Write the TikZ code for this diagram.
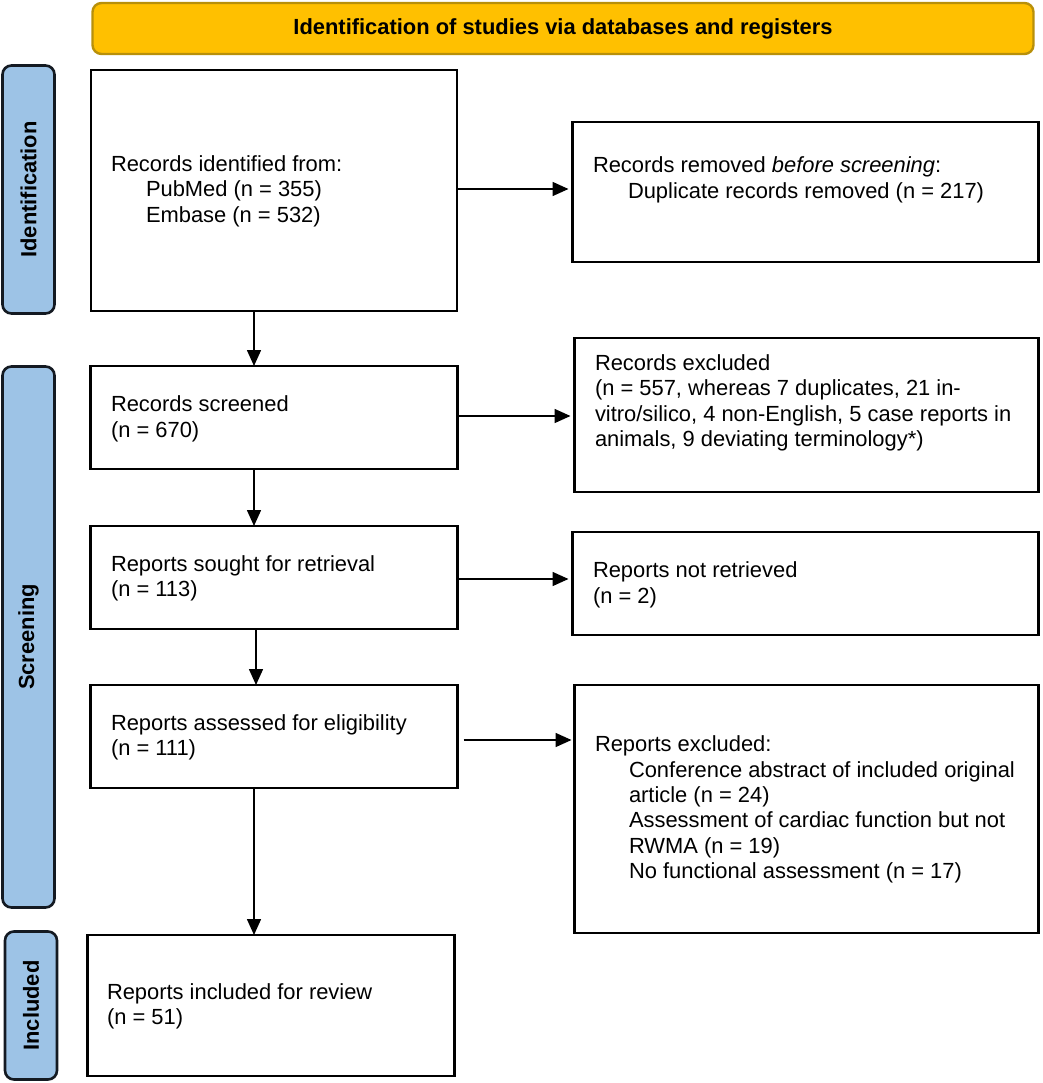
\documentclass[tikz,border=0pt]{standalone}
\usepackage{fontspec}
\setmainfont{Liberation Sans}
\usetikzlibrary{arrows.meta}
\definecolor{hdrfill}{HTML}{FFC000}
\definecolor{hdrdraw}{HTML}{B8900A}
\definecolor{sidefill}{HTML}{9DC3E6}
\definecolor{sidedraw}{HTML}{141A22}
\begin{document}
\begin{tikzpicture}[x=1pt,y=-1pt,
  every node/.style={inner sep=0pt,outer sep=0pt},
  boxn/.style={draw=black,line width=2.6pt,rectangle,anchor=north west},
  txt/.style={anchor=west,align=left,font=\fontsize{21.9}{25.4}\selectfont},
  hdr/.style={draw=hdrdraw,fill=hdrfill,line width=2.4pt,rounded corners=9pt,anchor=north west},
  side/.style={draw=sidedraw,fill=sidefill,line width=2.6pt,rounded corners=9pt,anchor=north west},
  sidetxt/.style={rotate=90,font=\fontsize{21.9}{25}\selectfont\bfseries},
  arr/.style={line width=1.6pt,-{Triangle[length=16pt,width=14pt]}}
]
\useasboundingbox (0,0) rectangle (1042,1083);
% header
\node[hdr,minimum width=941pt,minimum height=51pt] (hdr) at (92.5,3) {};
\node[font=\fontsize{21.9}{25}\selectfont\bfseries] (hdrt) at (563,28.5) {Identification of studies via databases and registers};
% side bars
\node[side,minimum width=52pt,minimum height=248pt] (sid) at (2.5,65.5) {};
\node[sidetxt] (sidt) at (sid.center) {Identification};
\node[side,minimum width=52pt,minimum height=541pt] (sscr) at (2.5,366.5) {};
\node[sidetxt] (sscrt) at (sscr.center) {Screening};
\node[side,minimum width=52pt,minimum height=148pt] (sinc) at (5,931.5) {};
\node[sidetxt] (sinct) at (sinc.center) {Included};
% left column boxes
\node[boxn,minimum width=366pt,minimum height=241pt] (b1) at (91,70) {};
\node[txt] (b1t) at (111,191) {Records identified from:\\\hspace*{35pt}PubMed (n = 355)\\\hspace*{35pt}Embase (n = 532)};
\node[boxn,minimum width=367pt,minimum height=103pt] (b2) at (90.5,366) {};
\node[txt] (b2t) at (111,419) {Records screened\\(n = 670)};
\node[boxn,minimum width=367pt,minimum height=103pt] (b3) at (90.5,526) {};
\node[txt] (b3t) at (111,578.5) {Reports sought for retrieval\\(n = 113)};
\node[boxn,minimum width=367pt,minimum height=103pt] (b4) at (90.5,685) {};
\node[txt] (b4t) at (111,737.5) {Reports assessed for eligibility\\(n = 111)};
\node[boxn,minimum width=367pt,minimum height=141pt] (b5) at (87.5,935) {};
\node[txt] (b5t) at (107,1006.5) {Reports included for review\\(n = 51)};
% right column boxes
\node[boxn,minimum width=466pt,minimum height=140pt] (r1) at (572.5,122) {};
\node[txt] (r1t) at (593,180) {Records removed \textit{before screening}:\\\hspace*{35pt}Duplicate records removed (n = 217)};
\node[boxn,minimum width=464pt,minimum height=154pt] (r2) at (574.5,338) {};
\node[txt] (r2t) at (595,403) {Records excluded\\(n = 557, whereas 7 duplicates, 21 in-\\vitro/silico, 4 non-English, 5 case reports in\\animals, 9 deviating terminology*)};
\node[boxn,minimum width=466pt,minimum height=103pt] (r3) at (572.5,532) {};
\node[txt] (r3t) at (593,585) {Reports not retrieved\\(n = 2)};
\node[boxn,minimum width=464pt,minimum height=248pt] (r4) at (574.5,685) {};
\node[txt] (r4t) at (595,809.5) {Reports excluded:\\\hspace*{34pt}Conference abstract of included original\\\hspace*{34pt}article (n = 24)\\\hspace*{34pt}Assessment of cardiac function but not\\\hspace*{34pt}RWMA (n = 19)\\\hspace*{34pt}No functional assessment (n = 17)};
% connectors
\draw[arr] (b1.south -| 254,0) -- (b2.north -| 254,0);
\draw[arr] (b2.south -| 254,0) -- (b3.north -| 254,0);
\draw[arr] (b3.south -| 256,0) -- (b4.north -| 256,0);
\draw[arr] (b4.south -| 254,0) -- (b5.north -| 254,0);
\draw[arr,shorten >=4pt] (b1.east |- 0,189) -- (r1.west |- 0,189);
\draw[arr,shorten >=4pt] (b2.east |- 0,416) -- (r2.west |- 0,416);
\draw[arr,shorten >=4pt] (b3.east |- 0,579) -- (r3.west |- 0,579);
\draw[arr,shorten <=6pt,shorten >=3pt] (b4.east |- 0,740) -- (r4.west |- 0,740);
\end{tikzpicture}
\end{document}
